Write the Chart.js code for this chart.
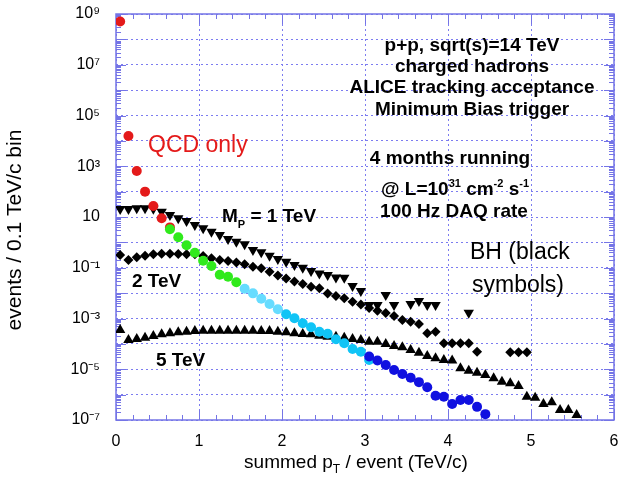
<!DOCTYPE html>
<html><head><meta charset="utf-8">
<script src="https://cdn.jsdelivr.net/npm/chart.js@4/dist/chart.umd.min.js"></script>
<style>html,body{margin:0;padding:0;background:#fff;}canvas{display:block;}</style>
</head><body>
<canvas id="c" width="621" height="491"></canvas>
<script>
// ---- data (bin centres in TeV/c, events per 0.1 TeV/c bin) ----
const qcdRedX = [0.05,0.15,0.25,0.35,0.45,0.55,0.65];
const qcdRedY = [5.1e8,1.55e4,650,100,27,8.9,3.9];
const qcdGreenX = [0.65,0.75,0.85,0.95,1.05,1.15,1.25,1.35,1.45];
const qcdGreenY = [3.3,1.6,0.77,0.39,0.19,0.117,0.053,0.044,0.027];
const qcdLightCyanX = [1.55,1.65,1.75,1.85,1.95];
const qcdLightCyanY = [0.0149,0.0098,0.0060,0.0037,0.0023];
const qcdCyanX = [2.05,2.15,2.25,2.35,2.45,2.55,2.65,2.75,2.85,2.95,3.05];
const qcdCyanY = [1.47e-3,1.02e-3,6.5e-4,4.5e-4,3.0e-4,2.5e-4,1.51e-4,1.05e-4,6.3e-5,4.9e-5,2.3e-5];
const qcdBlueX = [3.05,3.15,3.25,3.35,3.45,3.55,3.65,3.75,3.85,3.95,4.05,4.15,4.25,4.35,4.45];
const qcdBlueY = [3.2e-5,2.2e-5,1.47e-5,9.3e-6,6.5e-6,4.6e-6,3.1e-6,1.95e-6,9.1e-7,8.3e-7,4.3e-7,6.1e-7,6.1e-7,3.3e-7,1.7e-7];

const bh1X = [0.05,0.15,0.25,0.35,0.45,0.55,0.65,0.75,0.85,0.95,1.05,1.15,1.25,1.35,1.45,1.55,1.65,1.75,1.85,1.95,
              2.05,2.15,2.25,2.35,2.45,2.55,2.65,2.75,2.85,2.95,3.05,3.15,3.25,3.35,3.55,3.65,3.75,3.85,4.25];
const bh1Y = [20.7,20.7,22,22,21,16.2,12,8.9,6.95,4.84,3.59,2.64,1.95,1.36,1.06,0.84,0.50,0.41,0.30,0.22,
              0.173,0.128,0.100,0.074,0.060,0.052,0.041,0.040,0.019,0.0121,0.0034,0.0034,0.0084,0.0034,0.0037,0.0049,0.0034,0.0034,0.0017];

const bh2X = [0.05,0.15,0.25,0.35,0.45,0.55,0.65,0.75,0.85,0.95,1.05,1.15,1.25,1.35,1.45,1.55,1.65,1.75,1.85,1.95,
              2.05,2.15,2.25,2.35,2.45,2.55,2.65,2.75,2.85,2.95,3.05,3.15,3.25,3.35,3.45,3.55,3.65,3.75,3.85,3.95,
              4.05,4.15,4.25,4.35,4.75,4.85,4.95];
const bh2Y = [0.318,0.202,0.258,0.299,0.339,0.358,0.358,0.348,0.339,0.339,0.290,0.235,0.202,0.185,0.161,0.137,0.110,0.095,0.070,0.049,
              0.038,0.029,0.023,0.0179,0.0155,0.0097,0.0077,0.0063,0.0046,0.0036,0.0026,0.0020,0.00165,0.00126,8.7e-4,7.5e-4,6.1e-4,2.6e-4,3.0e-4,1.05e-4,
              1.05e-4,1.05e-4,1.05e-4,4.9e-5,4.7e-5,4.7e-5,4.7e-5];

const bh5X = [0.05,0.15,0.25,0.35,0.45,0.55,0.65,0.75,0.85,0.95,1.05,1.15,1.25,1.35,1.45,1.55,1.65,1.75,1.85,1.95,
              2.05,2.15,2.25,2.35,2.45,2.55,2.65,2.75,2.85,2.95,3.05,3.15,3.25,3.35,3.45,3.55,3.65,3.75,3.85,3.95,
              4.05,4.15,4.25,4.35,4.45,4.55,4.65,4.75,4.85,4.95,5.05,5.15,5.25,5.35,5.45,5.55];
const bh5Y = [3.5e-4,1.42e-4,1.56e-4,1.75e-4,2.04e-4,2.38e-4,2.6e-4,2.86e-4,3.0e-4,3.2e-4,
              3.3e-4,3.3e-4,3.3e-4,3.3e-4,3.3e-4,3.3e-4,3.3e-4,3.2e-4,3.2e-4,3.0e-4,
              2.86e-4,2.6e-4,2.45e-4,2.38e-4,2.1e-4,1.92e-4,1.92e-4,1.75e-4,1.56e-4,1.42e-4,
              1.22e-4,1.22e-4,9.9e-5,8.2e-5,7.3e-5,5.7e-5,4.5e-5,3.3e-5,2.7e-5,2.3e-5,
              2.2e-5,1.09e-5,8.8e-6,7.3e-6,5.9e-6,4.4e-6,3.2e-6,2.8e-6,2.2e-6,8.3e-7,
              7.6e-7,4.3e-7,5.0e-7,2.5e-7,2.5e-7,1.57e-7];

const xTickLabels = ['0','1','2','3','4','5','6'];
const yTickExponents = [9,8,7,6,5,4,3,2,1,0,-1,-2,-3,-4,-5,-6,-7];
const yLabelledExponents = [9,7,5,3,1,-1,-3,-5,-7];

const FONT = "'Liberation Sans', Arial, Helvetica, sans-serif";
const SUP = {'0':'⁰','1':'¹','2':'²','3':'³','4':'⁴','5':'⁵','6':'⁶','7':'⁷','8':'⁸','9':'⁹','-':'⁻'};
function expLabel(e){ return e===1 ? '10' : '10' + String(e).split('').map(c=>SUP[c]).join(''); }
function pts(xs, ys){ return xs.map((x,i)=>({x:x, y:ys[i]})); }

function drawRich(ctx, segs, x, y, align){
  let w = 0;
  segs.forEach(s=>{ ctx.font = s.f; s.w = ctx.measureText(s.t).width; w += s.w; });
  let cx = align === 'center' ? x - w/2 : x;
  ctx.textAlign = 'left'; ctx.textBaseline = 'alphabetic';
  segs.forEach(s=>{ ctx.font = s.f; ctx.fillStyle = s.c || '#000'; ctx.fillText(s.t, cx, y + (s.dy||0)); cx += s.w; });
}

const frameColor = '#7474e6';
const framePlugin = {
  id: 'frame',
  beforeDatasetsDraw(chart){
    const {ctx, chartArea:a, scales:{x, y}} = chart;
    ctx.save();
    ctx.strokeStyle = frameColor; ctx.lineWidth = 1;
    ctx.beginPath();
    for (let e=-7; e<=9; e++){
      for (let k=1; k<=9; k++){
        const v = k*Math.pow(10,e);
        if (v > 1.0001e9) break;
        const py = Math.round(y.getPixelForValue(v)) + 0.5;
        const len = k===1 ? 10 : 5;
        ctx.moveTo(a.left, py); ctx.lineTo(a.left+len, py);
        ctx.moveTo(a.right, py); ctx.lineTo(a.right-len, py);
      }
    }
    for (let i=0; i<=30; i++){
      const v = i/5;
      const px = Math.round(x.getPixelForValue(v)) + 0.5;
      const len = i%5===0 ? 10 : 5;
      ctx.moveTo(px, a.bottom); ctx.lineTo(px, a.bottom-len);
      ctx.moveTo(px, a.top); ctx.lineTo(px, a.top+len);
    }
    ctx.stroke();
    ctx.lineWidth = 1.5;
    ctx.strokeRect(a.left, a.top, a.right-a.left, a.bottom-a.top);
    ctx.restore();
  },
  afterDraw(chart){
    const {ctx} = chart;
    ctx.save();
    const B = 'bold 19px ' + FONT, Bs = 'bold 11px ' + FONT;
    drawRich(ctx, [{t:'p+p, sqrt(s)=14 TeV', f:B}], 472, 50.5, 'center');
    drawRich(ctx, [{t:'charged hadrons', f:B}], 472, 71.5, 'center');
    drawRich(ctx, [{t:'ALICE tracking acceptance', f:B}], 472, 92.5, 'center');
    drawRich(ctx, [{t:'Minimum Bias trigger', f:B}], 472, 114.5, 'center');
    drawRich(ctx, [{t:'4 months running', f:B}], 450, 163.5, 'center');
    drawRich(ctx, [{t:'@ L=10', f:B},{t:'31', f:Bs, dy:-8},{t:' cm', f:B},{t:'-2', f:Bs, dy:-8},{t:' s', f:B},{t:'-1', f:Bs, dy:-8}], 455, 194.5, 'center');
    drawRich(ctx, [{t:'100 Hz DAQ rate', f:B}], 454, 217, 'center');
    drawRich(ctx, [{t:'M', f:B},{t:'P', f:Bs, dy:6},{t:' = 1 TeV', f:B}], 222, 221.5, 'left');
    drawRich(ctx, [{t:'2 TeV', f:B}], 132, 286.5, 'left');
    drawRich(ctx, [{t:'5 TeV', f:B}], 156, 366, 'left');
    const R = '23px ' + FONT;
    drawRich(ctx, [{t:'QCD only', f:R, c:'#e41a1a'}], 148, 151.5, 'left');
    drawRich(ctx, [{t:'BH (black', f:R}], 470, 259, 'left');
    drawRich(ctx, [{t:'symbols)', f:R}], 472, 292, 'left');
    const T = '19px ' + FONT, Ts = '12px ' + FONT;
    drawRich(ctx, [{t:'summed p', f:T},{t:'T', f:Ts, dy:5},{t:' / event (TeV/c)', f:T}], 356, 468, 'center');
    ctx.translate(21, 230); ctx.rotate(-Math.PI/2);
    drawRich(ctx, [{t:'events / 0.1 TeV/c bin', f:'21px ' + FONT}], 0, 0, 'center');
    ctx.restore();
  }
};

const mk = (label, xs, ys, color, style, r, rot) => ({
  label, data: pts(xs, ys), backgroundColor: color, borderColor: color, borderWidth: 0,
  pointStyle: style, pointRadius: r, pointRotation: rot||0, showLine: false
});

new Chart(document.getElementById('c'), {
  type: 'scatter',
  data: { datasets: [
    mk('QCD blue', qcdBlueX, qcdBlueY, '#1010e0', 'circle', 5),
    mk('QCD cyan', qcdCyanX, qcdCyanY, '#10c4f6', 'circle', 5),
    mk('QCD light cyan', qcdLightCyanX, qcdLightCyanY, '#66dcff', 'circle', 5),
    mk('QCD green', qcdGreenX, qcdGreenY, '#30ea1c', 'circle', 5),
    mk('QCD red', qcdRedX, qcdRedY, '#e41a1a', 'circle', 5),
    mk('BH M_P = 1 TeV', bh1X, bh1Y, '#000', 'triangle', 6, 180),
    mk('BH 2 TeV', bh2X, bh2Y, '#000', 'rectRot', 5),
    mk('BH 5 TeV', bh5X, bh5Y, '#000', 'triangle', 6)
  ]},
  options: {
    responsive: false, animation: false, devicePixelRatio: 1,
    layout: { padding: { left: 0, right: 7, top: 14, bottom: 0 } },
    plugins: { legend: { display: false }, tooltip: { enabled: false } },
    elements: { point: { borderWidth: 0 } },
    scales: {
      x: {
        type: 'linear', min: 0, max: 6,
        afterFit(s){ s.height = 71; s.paddingLeft = 0; s.paddingRight = 0; },
        ticks: { stepSize: 1, color: '#000', font: { family: FONT, size: 16 }, padding: 12,
                 callback: (v) => xTickLabels[Math.round(v)] ?? '' },
        grid: { color: '#7c7cf0', lineWidth: 1, drawTicks: false },
        border: { display: false, dash: [2,3] }
      },
      y: {
        type: 'logarithmic', min: 1e-7, max: 1e9,
        afterFit(s){ s.width = 116; s.paddingTop = 0; s.paddingBottom = 0; },
        afterBuildTicks(s){ s.ticks = yTickExponents.map(e => ({ value: Math.pow(10, e) })); },
        ticks: { color: '#000', font: { family: FONT, size: 16 }, padding: 16, autoSkip: false,
                 callback: (v) => { const e = Math.round(Math.log10(v)); return yLabelledExponents.includes(e) ? expLabel(e) : ''; } },
        grid: { color: '#7c7cf0', lineWidth: 1, drawTicks: false },
        border: { display: false, dash: [2,3] }
      }
    }
  },
  plugins: [framePlugin]
});
</script>
</body></html>
